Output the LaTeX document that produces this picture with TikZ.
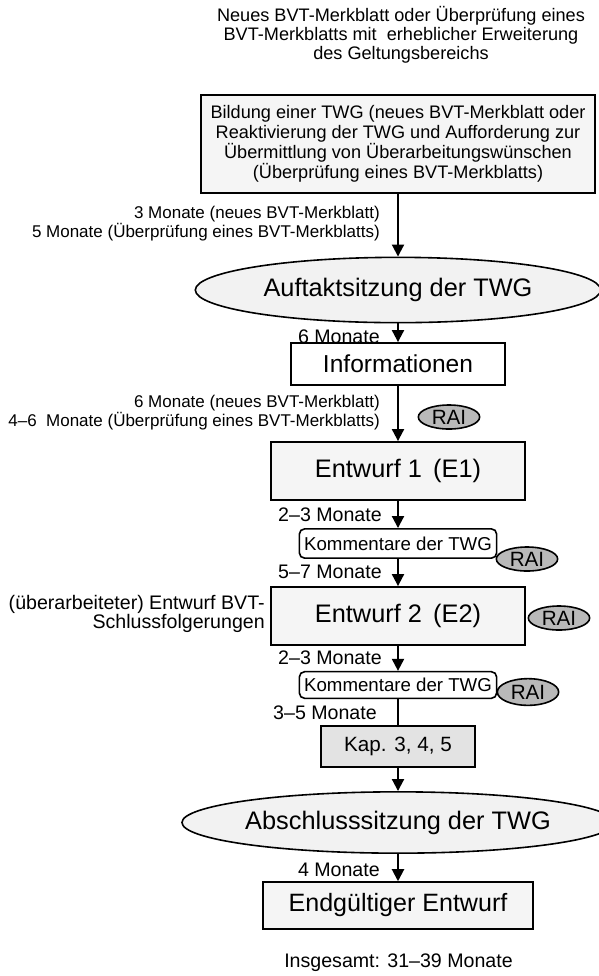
\documentclass[tikz,border=0pt]{standalone}
\usepackage{fontspec}
\setmainfont{Liberation Sans}
\usetikzlibrary{arrows.meta,shapes.geometric}

\begin{document}
\begin{tikzpicture}[
    x=0.75pt, y=-0.75pt,
    box/.style={draw=black, line width=1.4pt, fill=gray!8, inner sep=0pt, align=center},
    oval/.style={ellipse, draw=black, line width=1.2pt, fill=gray!10, inner sep=0pt,
        font=\fontsize{19}{22}\selectfont},
    comment/.style={draw=black, line width=1.2pt, fill=white, rounded corners=4pt,
        inner sep=0pt, font=\fontsize{14}{16}\selectfont},
    rai/.style={ellipse, draw=black, line width=1.2pt, fill=gray!55, inner sep=0pt,
        minimum width=46pt, minimum height=18pt, font=\fontsize{15.5}{17}\selectfont},
    note/.style={anchor=east, align=right, inner sep=0pt, font=\fontsize{12.75}{12.9}\selectfont},
    dur/.style={anchor=east, inner sep=0pt, font=\fontsize{14.7}{16}\selectfont},
    flow/.style={-{Triangle[width=9pt,length=9pt]}, line width=1.5pt},
]
\useasboundingbox (0,0) rectangle (599,976);

% start
\node[align=center, font=\fontsize{13.6}{14.25}\selectfont] (start) at (401,35)
    {Neues BVT-Merkblatt oder Überprüfung eines\\
     BVT-Merkblatts mit \ erheblicher Erweiterung\\
     des Geltungsbereichs};

\node[box, minimum width=296pt, minimum height=74pt, font=\fontsize{13.6}{15}\selectfont] (twg) at (398,144)
    {Bildung einer TWG (neues BVT-Merkblatt oder\\
     Reaktivierung der TWG und Aufforderung zur\\
     Übermittlung von Überarbeitungswünschen\\
     (Überprüfung eines BVT-Merkblatts)};

\node[oval, minimum width=304pt, minimum height=49pt] (auft) at (398,290) {Auftaktsitzung der TWG};

\node[box, fill=white, minimum width=160pt, minimum height=31.5pt,
    font=\fontsize{18.4}{20}\selectfont] (info) at (398,364) {Informationen};

\node[box, minimum width=191pt, minimum height=43.5pt,
    font=\fontsize{19}{22}\selectfont] (e1) at (398,471) {Entwurf 1 \,(E1)};

\node[comment, minimum width=148pt, minimum height=22pt] (komm1) at (398,543.5) {Kommentare der TWG};

\node[box, minimum width=191pt, minimum height=43.5pt,
    font=\fontsize{19}{22}\selectfont] (e2) at (398,616) {Entwurf 2 \,(E2)};

\node[comment, minimum width=148pt, minimum height=20pt] (komm2) at (398,685) {Kommentare der TWG};

\node[box, fill=gray!22, minimum width=116pt, minimum height=31pt,
    font=\fontsize{15.5}{17}\selectfont] (kap) at (398,746.5) {Kap. 3, 4, 5};

\node[oval, minimum width=286pt, minimum height=46pt] (absch) at (398,822.5) {Abschlusssitzung der TWG};

\node[box, minimum width=203pt, minimum height=35pt,
    font=\fontsize{18.8}{21}\selectfont] (final) at (398,905.5) {Endgültiger Entwurf};

\node[font=\fontsize{14.7}{16}\selectfont] (total) at (398.5,963) {Insgesamt: 31–39 Monate};

% RAI
\node[rai] (rai1) at (449,417) {RAI};
\node[rai] (rai2) at (527,559) {RAI};
\node[rai] (rai3) at (559,618) {RAI};
\node[rai, minimum height=20pt] (rai4) at (528,692) {RAI};

% durations
\node[note] (t1) at (380,223.5)
    {3 Monate (neues BVT-Merkblatt)\\5 Monate (Überprüfung eines BVT-Merkblatts)};
\node[dur] (t2) at (380,337) {6 Monate};
\node[note] (t3) at (380,412.5)
    {6 Monate (neues BVT-Merkblatt)\\4–6 \ Monate (Überprüfung eines BVT-Merkblatts)};
\node[dur] (t4) at (382,515) {2–3 Monate};
\node[dur] (t5) at (382,572) {5–7 Monate};
\node[dur, align=right, font=\fontsize{14.7}{13.5}\selectfont] (e2note) at (265,614)
    {(überarbeiteter) Entwurf BVT-\\Schlussfolgerungen};
\node[dur] (t6) at (382,658) {2–3 Monate};
\node[dur] (t7) at (377,713) {3–5 Monate};
\node[dur] (t8) at (380,870) {4 Monate};

% connectors
\draw[flow] (twg) -- (auft);
\draw[flow] (auft) -- (info);
\draw[flow] (info) -- (e1);
\draw[flow] (e1) -- (komm1);
\draw[flow] (komm1) -- (e2);
\draw[flow] (e2) -- (komm2);
\draw[line width=1.5pt] (komm2) -- (kap);
\draw[flow] (kap) -- (absch);
\draw[flow] (absch) -- (final);

\end{tikzpicture}
\end{document}
